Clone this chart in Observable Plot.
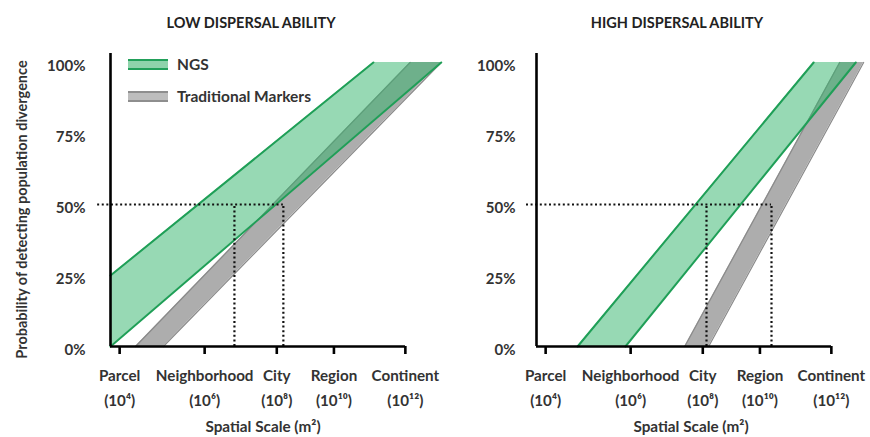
<!DOCTYPE html>
<html>
<head>
<meta charset="utf-8">
<script src="https://cdn.jsdelivr.net/npm/d3@7"></script>
<script src="https://cdn.jsdelivr.net/npm/@observablehq/plot@0.6"></script>
<style>
  html, body { margin: 0; padding: 0; background: #fff; }
  #wrap { position: relative; width: 870px; height: 437px; font-family: Lato, "Open Sans", sans-serif; }
  #wrap svg { position: absolute; top: 0; overflow: visible; }
  .legend { position: absolute; left: 128px; font-weight: 700; font-size: 15.5px; color: #333; }
  .legend div.row { position: absolute; white-space: nowrap; display: flex; align-items: center; }
  .sw { width: 40px; height: 7px; margin-right: 9px; }
</style>
</head>
<body>
<div id="wrap">
  <div class="legend" id="legend"></div>
</div>
<script>
// ---- data ----
const panelTitles = ["LOW DISPERSAL ABILITY", "HIGH DISPERSAL ABILITY"];
const scaleNames = ["Parcel", "Neighborhood", "City", "Region", "Continent"];
const scaleAreas = ["(10\u2074)", "(10\u2076)", "(10\u2078)", "(10\u00b9\u2070)", "(10\u00b9\u00b2)"];
const scalePos = [4, 6.38, 8.4, 10, 12];           // log10 area (as drawn)
const probTicks = [0, 25, 50, 75, 100];
const seriesNames = ["NGS", "Traditional Markers"];

// band edges: each band = two straight edges, given as [start, end] points (x = log10 m², y = %)
const lowNGS_A  = [{x: 3.8,  y: 25}, {x: 11.16, y: 100}];
const lowNGS_B  = [{x: 3.8,  y: 0},  {x: 13.06, y: 100}];
const lowTM_A   = [{x: 4.5,  y: 0},  {x: 12.19, y: 100}];
const lowTM_B   = [{x: 5.28, y: 0},  {x: 13.06, y: 100}];
const highNGS_A = [{x: 4.95, y: 0},  {x: 11.56, y: 100}];
const highNGS_B = [{x: 6.29, y: 0},  {x: 12.74, y: 100}];
const highTM_A  = [{x: 7.95, y: 0},  {x: 12.29, y: 100}];
const highTM_B  = [{x: 8.62, y: 0},  {x: 12.96, y: 100}];

// scale at which each band reaches 50% (dotted guides)
const lowHalf  = [7.27, 8.64];
const highHalf = [8.56, 10.38];
const halfLevel = 50;

// ---- styles ----
const xDomain = [3.8, 12.06];
const green = "#1f9f57", greenFill = "#2fb36a";
const gray = "#8a8a8a", grayFill = "#adadad";
const font = "Lato, 'Open Sans', sans-serif";

function band(A, B) {
  return A.map((a, i) => ({x1: a.x, y1: a.y, x2: B[i].x, y2: B[i].y}));
}

function panel(title, ngsA, ngsB, tmA, tmB, half, opts) {
  const marks = [
    Plot.area(band(tmA, tmB), {x1: "x1", y1: "y1", x2: "x2", y2: "y2", fill: grayFill, fillOpacity: 1}),
    Plot.line(tmA, {x: "x", y: "y", stroke: gray, strokeWidth: 1.2}),
    Plot.line(tmB, {x: "x", y: "y", stroke: gray, strokeWidth: 1.2}),
    Plot.area(band(ngsA, ngsB), {x1: "x1", y1: "y1", x2: "x2", y2: "y2", fill: greenFill, fillOpacity: 0.5}),
    Plot.line(ngsA, {x: "x", y: "y", stroke: green, strokeWidth: 2}),
    Plot.line(ngsB, {x: "x", y: "y", stroke: green, strokeWidth: 2}),
    // dotted guides
    Plot.ruleY([halfLevel], {x1: xDomain[0] - opts.guideLead, x2: d3.max(half), stroke: "#111", strokeWidth: 2.2, strokeDasharray: "2 2.6"}),
    Plot.ruleX(half, {y1: 0, y2: halfLevel, stroke: "#111", strokeWidth: 2.2, strokeDasharray: "2 2.6"}),
    // axes
    Plot.ruleX([xDomain[0]], {y1: 0, y2: 103.2, stroke: "#000", strokeWidth: 2.6}),
    Plot.ruleY([0], {x1: xDomain[0], x2: xDomain[1], stroke: "#000", strokeWidth: 2.6}),
    Plot.axisX(scalePos, {
      tickSize: 8, strokeWidth: 2.6, stroke: "#000",
      tickFormat: (d, i) => scaleNames[i] + "\n" + scaleAreas[i],
      tickPadding: 9, lineHeight: 1.62, fontSize: 15.2, fontWeight: 700, fill: "#333",
      dx: 2
    }),
    Plot.axisY(probTicks, {
      tickSize: 0, tickPadding: opts.yPad, tickFormat: d => d + "%",
      fontSize: 15, fontWeight: 700, fill: "#333", dy: 4
    }),
    Plot.text([title], {frameAnchor: "top", dy: -45, dx: -7, fontSize: 14.5, fontWeight: 700, fill: "#222"}),
    Plot.text(["Spatial Scale (m\u00b2)"], {frameAnchor: "bottom", dy: 85, dx: opts.titleDx, fontSize: 15.3, fontWeight: 700, fill: "#333"})
  ];
  if (opts.yLabel) {
    marks.push(Plot.text([opts.yLabel], {frameAnchor: "left", textAnchor: "middle", rotate: -90, dx: -88, dy: 5, fontSize: 14.5, fontWeight: 700, fill: "#333"}));
  }
  return Plot.plot({
    width: opts.width, height: 437,
    marginLeft: opts.ml, marginRight: opts.mr, marginTop: 62, marginBottom: 91,
    style: {fontFamily: font, background: "transparent", overflow: "visible"},
    x: {domain: xDomain, axis: null},
    y: {domain: [0, 100], axis: null},
    marks
  });
}

const wrap = document.getElementById("wrap");
const left = panel(panelTitles[0], lowNGS_A, lowNGS_B, lowTM_A, lowTM_B, lowHalf,
  {width: 450, ml: 110, mr: 45, yPad: 25, titleDx: 5, guideLead: 0.36, yLabel: "Probability of detecting population divergence"});
left.style.left = "0px";
const right = panel(panelTitles[1], highNGS_A, highNGS_B, highTM_A, highTM_B, highHalf,
  {width: 420, ml: 86, mr: 39, yPad: 21, titleDx: 7, guideLead: 0.28});
right.style.left = "450px";
wrap.insertBefore(left, wrap.firstChild);
wrap.insertBefore(right, wrap.firstChild);

// legend
const legend = document.getElementById("legend");
const legendTop = [55, 87];
const legendStyle = [
  {bg: "#8fd3ab", bd: "#22a05a"},
  {bg: "#bdbdbd", bd: "#8e8e8e"}
];
seriesNames.forEach((name, i) => {
  const row = document.createElement("div");
  row.className = "row";
  row.style.top = legendTop[i] + "px";
  row.innerHTML = `<span class="sw" style="background:${legendStyle[i].bg};border-top:2px solid ${legendStyle[i].bd};border-bottom:2px solid ${legendStyle[i].bd}"></span><span>${name}</span>`;
  legend.appendChild(row);
});
</script>
</body>
</html>
